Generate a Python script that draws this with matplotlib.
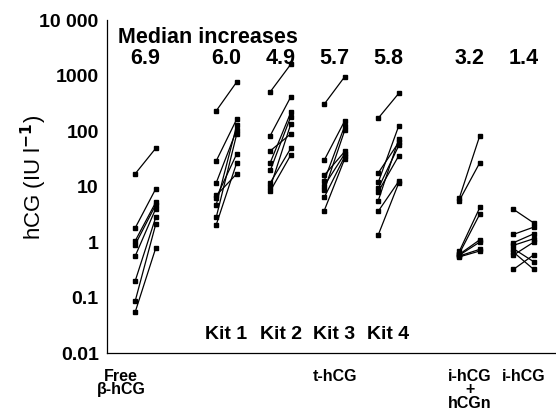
import matplotlib
matplotlib.use("Agg")
import matplotlib.pyplot as plt

plt.rcParams['font.family'] = ['Liberation Sans', 'DejaVu Sans']
plt.rcParams['font.weight'] = 'bold'

# group centres on the x axis (categorical layout)
group_x = [1.0, 2.5, 3.5, 4.5, 5.5, 7.0, 8.0]
medians = ['6.9', '6.0', '4.9', '5.7', '5.8', '3.2', '1.4']
kit_labels = ['', 'Kit 1', 'Kit 2', 'Kit 3', 'Kit 4', '', '']

# paired values (before, after) per group, IU/l
free_b = [17, 1.8, 1.05, 0.9, 0.56, 0.2, 0.087, 0.055]
free_a = [49, 9.1, 5.2, 4.7, 4.0, 2.8, 2.1, 0.78]
kit1_b = [232, 29, 11.7, 6.9, 6.3, 4.7, 2.8, 2.05]
kit1_a = [770, 165, 106, 17, 39, 128, 89, 27]
kit2_b = [510, 83, 44, 27, 19.5, 11.7, 9.7, 8.3]
kit2_a = [1600, 414, 89, 217, 183, 49, 134, 37]
kit3_b = [306, 30, 16, 12.8, 10.4, 8.5, 6.4, 3.7]
kit3_a = [960, 154, 43, 125, 39, 104, 35, 32]
kit4_b = [171, 17.6, 12, 9.3, 8.1, 5.6, 3.6, 1.35]
kit4_a = [480, 63, 125, 55, 36, 72, 12.5, 11.7]
ihcgn_b = [6.2, 5.6, 0.68, 0.62, 0.6, 0.58, 0.56, 0.54]
ihcgn_a = [83, 27, 4.2, 3.2, 1.1, 1.0, 0.74, 0.69]
ihcg_b = [3.9, 1.37, 0.97, 0.87, 0.76, 0.66, 0.58, 0.32]
ihcg_a = [2.2, 1.86, 1.41, 1.15, 0.44, 0.32, 1.0, 0.59]

before = [free_b, kit1_b, kit2_b, kit3_b, kit4_b, ihcgn_b, ihcg_b]
after = [free_a, kit1_a, kit2_a, kit3_a, kit4_a, ihcgn_a, ihcg_a]

fig = plt.figure(figsize=(5.56, 4.12), dpi=100)
ax = fig.add_axes([0.1924, 0.1432, 0.8076, 0.808])

off = 0.19
for gx, b, a in zip(group_x, before, after):
    for v0, v1 in zip(b, a):
        ax.plot([gx - off, gx + off], [v0, v1], color='black', lw=0.9,
                marker='s', ms=2.8, mec='black', mfc='black', clip_on=False)

ax.set_yscale('log')
ax.set_ylim(0.01, 10000)
ax.set_xlim(0.287, 8.6)
ax.set_yticks([0.01, 0.1, 1, 10, 100, 1000, 10000])
ax.set_yticklabels(['0.01', '0.1', '1', '10', '100', '1000', '10 000'], fontsize=14)
ax.minorticks_off()
ax.tick_params(axis='y', length=0, pad=6)
ax.set_xticks([])
for s in ['top', 'right']:
    ax.spines[s].set_visible(False)
for s in ['left', 'bottom']:
    ax.spines[s].set_linewidth(0.9)

ax.set_ylabel('hCG (IU l$^{-1}$)', fontsize=16, fontweight='normal')
ax.yaxis.set_label_coords(-0.13, 0.528)

ax.text(0.5, 4800, 'Median increases', fontsize=15.5, ha='left', va='center')
for gx, m, k in zip(group_x, medians, kit_labels):
    ax.text(gx, 2050, m, fontsize=15.5, ha='center', va='center')
    if k:
        ax.text(gx, 0.022, k, fontsize=14, ha='center', va='center')

bottom = [(1.0, 'Free\nβ-hCG'), (4.5, 't-hCG'), (7.0, 'i-hCG\n+\nhCGn'), (8.0, 'i-hCG')]
for bx, lab in bottom:
    ax.text(bx - 0.45 if bx == 1.0 else bx, 0.0052, lab, fontsize=11.5,
            ha='center', va='top', linespacing=0.88)

fig.savefig('out.png', dpi=100)
